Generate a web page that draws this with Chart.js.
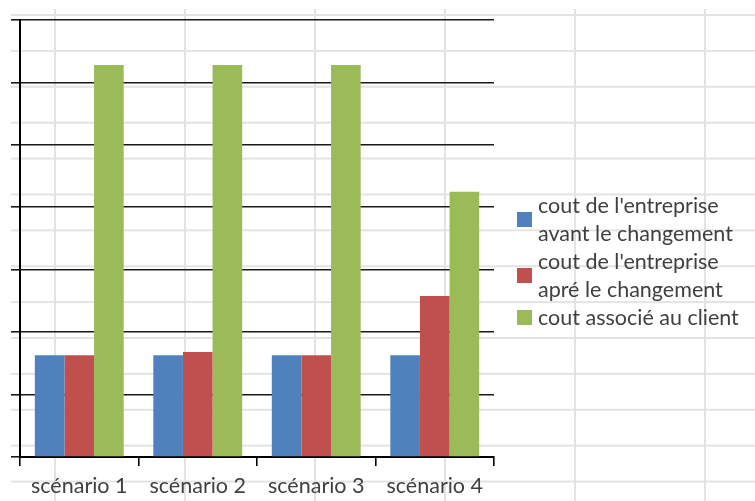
<!DOCTYPE html>
<html>
<head>
<meta charset="utf-8">
<script src="https://cdn.jsdelivr.net/npm/chart.js@4.4.1/dist/chart.umd.min.js"></script>
<style>
    html, body { margin: 0; padding: 0; background: #fff; }
    #wrap { position: relative; width: 755px; height: 501px; overflow: hidden; }
    /* fond quadrillé de la feuille Excel */
    #sheet {
        position: absolute; left: 11px; top: 9px; right: 0; bottom: 0;
        background-image:
            linear-gradient(to bottom, #e3e3e3 2px, transparent 2px),
            linear-gradient(to right, #e3e3e3 2px, transparent 2px);
        background-size: 100% 35.9px, 130px 100%;
        background-position: 0 5px, 43px 0;
    }
    #chart { position: absolute; left: 0; top: 0; }
    #legend {
        position: absolute; left: 517px; top: 191px;
        font-family: Lato, sans-serif; font-size: 21.5px; line-height: 28px; color: #404040;
    }
    .item { display: flex; align-items: center; }
    .box { width: 15px; height: 15px; margin-right: 6px; flex: none; }
</style>
</head>
<body>
<div id="wrap">
    <div id="sheet"></div>
    <canvas id="chart" width="755" height="501"></canvas>
    <div id="legend"></div>
</div>
<script>
const categories = ['scénario 1', 'scénario 2', 'scénario 3', 'scénario 4'];
const seriesNames = [
    ["cout de l'entreprise", 'avant le changement'],
    ["cout de l'entreprise", 'apré le changement'],
    ['cout associé au client']
];
const coutAvant = [1.63, 1.63, 1.63, 1.63];
const coutApres = [1.63, 1.68, 1.63, 2.58];
const coutClient = [6.28, 6.28, 6.28, 4.25];
const colors = ['#4F81BD', '#C0504D', '#9BBB59'];

const values = [coutAvant, coutApres, coutClient];

const ctx = document.getElementById('chart').getContext('2d');
const chart = new Chart(ctx, {
    type: 'bar',
    data: {
        labels: categories,
        datasets: values.map((v, i) => ({
            label: seriesNames[i].join(' '),
            data: v,
            backgroundColor: colors[i],
            borderWidth: 0,
            categoryPercentage: 0.75,
            barPercentage: 1.0
        }))
    },
    options: {
        responsive: false,
        animation: false,
        layout: { padding: { top: 20, right: 261, left: 0, bottom: 0 } },
        plugins: {
            legend: { display: false },
            tooltip: { enabled: false }
        },
        scales: {
            x: {
                grid: { drawOnChartArea: false, drawTicks: true, tickLength: 9, color: '#000', lineWidth: 1.6 },
                border: { color: '#000', width: 2 },
                ticks: { color: '#404040', padding: 7, font: { family: 'Lato', size: 21.5 }, maxRotation: 0 },
                afterFit: (s) => { s.height = 44; }
            },
            y: {
                min: 0,
                max: 7,
                ticks: { display: false, stepSize: 1 },
                grid: { color: '#1a1a1a', lineWidth: 1.6, tickLength: 9 },
                border: { color: '#000', width: 2 },
                afterFit: (s) => { s.width = 20; }
            }
        }
    }
});

// Légende à droite (libellés sur deux lignes)
const legend = document.getElementById('legend');
seriesNames.forEach((lines, i) => {
    const item = document.createElement('div');
    item.className = 'item';
    const box = document.createElement('div');
    box.className = 'box';
    box.style.background = colors[i];
    const txt = document.createElement('div');
    txt.innerHTML = lines.join('<br>');
    item.appendChild(box);
    item.appendChild(txt);
    legend.appendChild(item);
});
</script>
</body>
</html>
